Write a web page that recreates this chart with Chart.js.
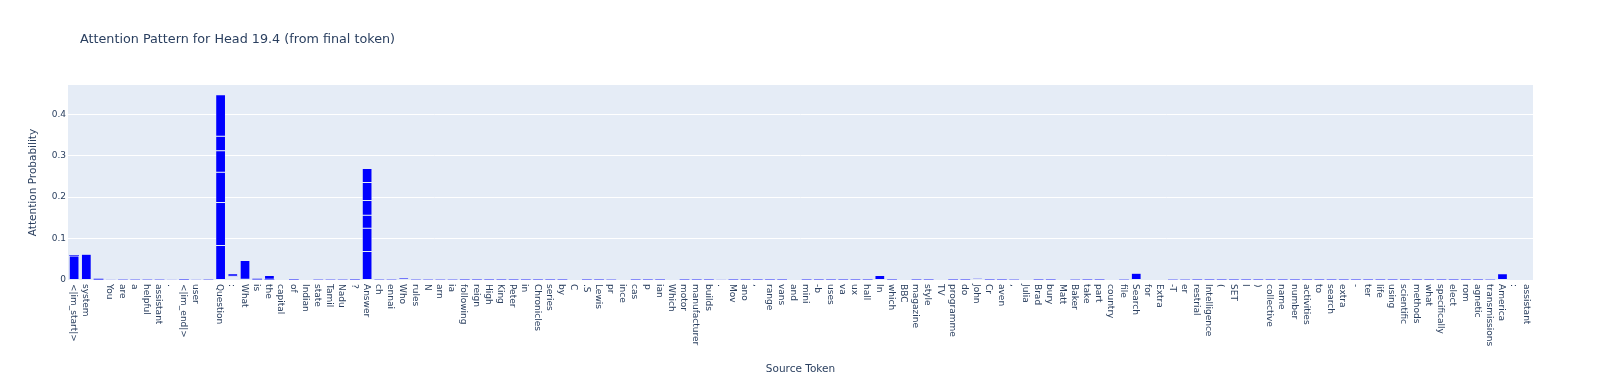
<!DOCTYPE html>
<html>
<head>
<meta charset="utf-8">
<script src="https://cdn.jsdelivr.net/npm/chart.js@4.4.1/dist/chart.umd.min.js"></script>
<style>
  body { margin: 0; background: #fff; }
  canvas { display: block; }
</style>
</head>
<body>
<canvas id="attnChart" width="1600" height="384"></canvas>
<script>
const titleText = 'Attention Pattern for Head 19.4 (from final token)';

// source tokens (x categories)
const tokens = [
  '<|im_start|>','system',' ','You','are','a','helpful','assistant','.','<|im_end|>',
  'user','  ','Question',':','What','is','the','capital','of','Indian',
  'state','Tamil','Nadu','?','Answer','ch','ennai','Who','rules','N',
  'arn','ia','following','reign','High','King','Peter','in','Chronicles','series',
  'by','C','.S','Lewis','pr','ince','cas','p','ian','Which',
  'motor','manufacturer','builds','.','Mov','ano',',','range','vans','and',
  'mini','-b','uses','va','ux','hall','In','which','BBC','magazine',
  'style','TV','programme','do','John','Cr','aven',',','Julia','Brad',
  'bury','Matt','Baker','take','part','country','file','Search','for','Extra',
  '-T','er','restrial','Intelligence','(','SET','I',')','collective','name',
  'number','activities','to','search','extra','-','ter','life','using','scientific',
  'methods','what','specifically','elect','rom','agnetic','transmissions','America',':','assistant'
];

// attention from first occurrence of each token
const attn1 = [
  0.058,0.062,0.001,0.001,0.0005,0.0005,0.0005,0.0005,0.001,0.001,
  0.0015,0.0005,0.083,0.0022,0.002,0.0015,0.001,0.002,0.001,0.002,
  0.0005,0.0005,0.0005,0.0005,0.069,0.0005,0.0005,0.005,0.0005,0.0005,
  0.0005,0.0005,0.0002,0.0002,0.0002,0.0002,0.0002,0.0002,0.0002,0.0002,
  0.0002,0.002,0.0002,0.0002,0.0005,0.002,0.0002,0.0002,0.0002,0.003,
  0.0002,0.0002,0.0002,0.001,0.0002,0.0002,0.0002,0.0002,0.0002,0.002,
  0.0002,0.0002,0.0002,0.0002,0.0002,0.0002,0.011,0.0002,0.002,0.0002,
  0.0002,0.002,0.0002,0.0002,0.004,0.0002,0.0002,0.0005,0.002,0.0002,
  0.0002,0.003,0.0005,0.0002,0.0002,0.002,0.0005,0.016,0.003,0.002,
  0.0005,0.0005,0.0002,0.0002,0.0002,0.0002,0.0002,0.0002,0.0002,0.0002,
  0.0002,0.0002,0.0002,0.0002,0.0002,0.0002,0.0002,0.0002,0.0002,0.0002,
  0.0002,0.0002,0.0002,0.0002,0.0002,0.0002,0.0005,0.015,0.002,0.003
];

// repeated tokens stack on top (2nd..6th occurrence)
const attn2 = [
  0.001,0,0.001,0,0,0,0,0,0,0.001,
  0,0,0.104,0.0022,0.045,0.0015,0.001,0,0.001,0,
  0,0,0,0.0005,0.056
];
const attn3 = [
  0.001,0,0.001,0,0,0,0,0,0,0,
  0,0,0.073,0.0022,0,0,0.009,0,0,0,
  0,0,0,0,0.031
];
const attn4 = [
  0,0,0,0,0,0,0,0,0,0,
  0,0,0.052,0.0022,0,0,0,0,0,0,
  0,0,0,0,0.036
];
const attn5 = [
  0,0,0,0,0,0,0,0,0,0,
  0,0,0.035,0.0004,0,0,0,0,0,0,
  0,0,0,0,0.043
];
const attn6 = [
  0,0,0,0,0,0,0,0,0,0,
  0,0,0.100,0.006,0,0,0,0,0,0,
  0,0,0,0,0.034
];

const fontFamily = '"DejaVu Sans", sans-serif';
const textColor = '#2a3f5f';

const plotBg = {
  id: 'plotBg',
  beforeDraw(chart) {
    const {ctx, chartArea: a} = chart;
    ctx.save();
    ctx.fillStyle = '#E5ECF6';
    ctx.fillRect(a.left, a.top, a.right - a.left, a.bottom - a.top);
    ctx.restore();
  }
};

const titleAndTicks = {
  id: 'titleAndTicks',
  afterDraw(chart) {
    const ctx = chart.ctx;
    const x = chart.scales.x;
    ctx.save();
    ctx.fillStyle = textColor;
    ctx.font = '12.75px ' + fontFamily;
    ctx.textAlign = 'left';
    ctx.textBaseline = 'alphabetic';
    ctx.fillText(titleText, 80, 43);

    // x tick labels read downwards like the original
    ctx.font = '9px ' + fontFamily;
    ctx.textBaseline = 'middle';
    tokens.forEach((t, i) => {
      const px = x.getPixelForValue(i);
      ctx.save();
      ctx.translate(px - 1, x.top + 4);
      ctx.rotate(Math.PI / 2);
      ctx.fillText(t, 0, 0);
      ctx.restore();
    });
    ctx.restore();
  }
};

const layers = [attn1, attn2, attn3, attn4, attn5, attn6];

new Chart(document.getElementById('attnChart').getContext('2d'), {
  type: 'bar',
  data: {
    labels: tokens,
    datasets: layers.map((d, i) => ({
      label: 'occurrence ' + (i + 1),
      data: d,
      backgroundColor: '#0000ff',
      borderColor: '#E5ECF6',
      // very thin bars would vanish under the outline, so skip it there
      borderWidth: c => (c.raw < 0.002 ? 0 : 0.5),
      borderSkipped: false,
      categoryPercentage: 0.8,
      barPercentage: 1.0
    }))
  },
  options: {
    responsive: false,
    animation: false,
    devicePixelRatio: 1,
    layout: { padding: { top: 85, right: 67, bottom: 0, left: 0 } },
    plugins: { legend: { display: false }, tooltip: { enabled: false } },
    scales: {
      x: {
        stacked: true,
        offset: true,
        grid: { display: false },
        border: { display: false },
        ticks: { display: false },
        title: { display: true, text: 'Source Token', color: textColor, font: { size: 10.5, family: fontFamily }, padding: { top: 0, bottom: 8 } },
        afterFit(s) { s.height = 104; }
      },
      y: {
        stacked: true,
        min: 0,
        max: 0.4706,
        grid: { color: '#ffffff', lineWidth: 1, drawTicks: false },
        border: { display: false },
        ticks: {
          stepSize: 0.1,
          includeBounds: false,
          padding: 2,
          color: textColor,
          font: { size: 9, family: fontFamily },
          callback: v => v === 0 ? '0' : v.toFixed(1)
        },
        title: { display: true, text: 'Attention Probability', color: textColor, font: { size: 10.5, family: fontFamily }, padding: { top: 27, bottom: 0 } },
        afterFit(s) { s.width = 68; }
      }
    }
  },
  plugins: [plotBg, titleAndTicks]
});
</script>
</body>
</html>
